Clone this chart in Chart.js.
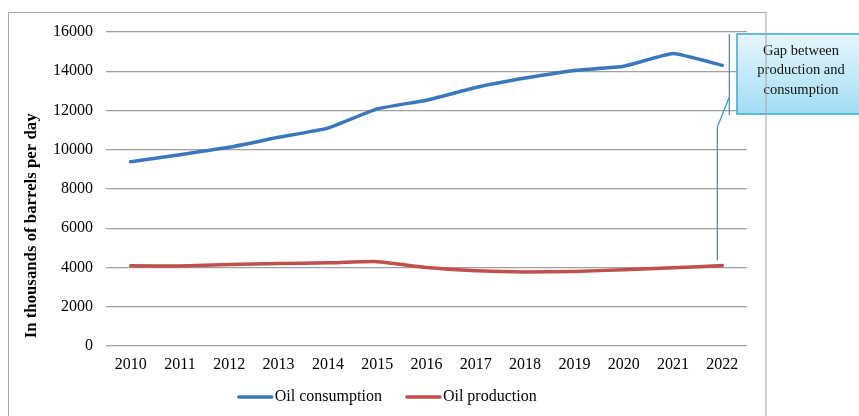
<!DOCTYPE html>
<html>
<head>
<meta charset="utf-8">
<script src="https://cdn.jsdelivr.net/npm/chart.js@4.4.1/dist/chart.umd.min.js"></script>
<style>
  html, body { margin: 0; padding: 0; background: #fff; }
  #wrap { width: 859px; height: 416px; }
</style>
</head>
<body>
<div id="wrap"><canvas id="oilChart"></canvas></div>
<script>
// --- data ---
const years = ['2010', '2011', '2012', '2013', '2014', '2015', '2016', '2017', '2018', '2019', '2020', '2021', '2022'];
const consumption = [9380, 9745, 10120, 10630, 11100, 12080, 12520, 13170, 13650, 14040, 14250, 14900, 14300];
const production = [4080, 4070, 4140, 4200, 4230, 4290, 3990, 3830, 3760, 3790, 3880, 3980, 4090];
const yTicks = [0, 2000, 4000, 6000, 8000, 10000, 12000, 14000, 16000];
const yTitle = 'In thousands of barrels per day';
const noteLines = ['Gap between', 'production and', 'consumption'];

const serif = '"Liberation Serif", "Times New Roman", serif';
const frame = { left: 8.5, top: 12.5, right: 766 };

// frame, axis title, legend and callout box
const decor = {
    id: 'decor',
    afterDraw(chart) {
        const ctx = chart.ctx;
        const x = chart.scales.x, y = chart.scales.y;
        const area = chart.chartArea;
        const xLast = x.getPixelForValue(years.length - 1);

        ctx.save();
        // y axis title (sits a bit below the middle, as in the source)
        ctx.save();
        ctx.translate(32, (area.top + area.bottom) / 2 + 37);
        ctx.rotate(-Math.PI / 2);
        ctx.font = 'bold 16.8px ' + serif;
        ctx.fillStyle = '#000';
        ctx.textAlign = 'center';
        ctx.textBaseline = 'middle';
        ctx.fillText(yTitle, 0, 0);
        ctx.restore();

        // callout bracket
        ctx.strokeStyle = '#2e9fce';
        ctx.lineWidth = 1.3;
        ctx.beginPath();
        ctx.moveTo(xLast + 7, y.getPixelForValue(15900));
        ctx.lineTo(xLast + 7, y.getPixelForValue(11770));
        ctx.moveTo(xLast + 7, y.getPixelForValue(12700));
        ctx.lineTo(xLast - 5, y.getPixelForValue(11150));
        ctx.lineTo(xLast - 5, y.getPixelForValue(4350));
        ctx.stroke();

        // note box
        const bx = 737, by = 34, bw = 140, bh = 80;
        const g = ctx.createLinearGradient(0, by, 0, by + bh);
        g.addColorStop(0, '#e6f6fd');
        g.addColorStop(1, '#a2ddf5');
        ctx.fillStyle = g;
        ctx.fillRect(bx, by, bw, bh);
        ctx.strokeStyle = '#38a8d4';
        ctx.lineWidth = 1.5;
        ctx.strokeRect(bx, by, bw, bh);
        ctx.fillStyle = '#111';
        ctx.font = '14.5px ' + serif;
        ctx.textAlign = 'center';
        ctx.textBaseline = 'middle';
        noteLines.forEach((t, i) => ctx.fillText(t, 801, 51 + i * 19.5));

        // legend
        ctx.font = '16px ' + serif;
        ctx.textAlign = 'left';
        ctx.fillStyle = '#000';
        const sw = 35, gap = 2, between = 24, ly = 397;
        const items = chart.data.datasets.map(ds => ({ text: ds.label, color: ds.borderColor, w: ctx.measureText(ds.label).width }));
        const total = items.reduce((s, it) => s + sw + gap + it.w, 0) + between * (items.length - 1);
        let lx = (frame.left + frame.right) / 2 - total / 2;
        items.forEach(it => {
            ctx.strokeStyle = it.color;
            ctx.lineWidth = 3.5;
            ctx.lineCap = 'round';
            ctx.beginPath();
            ctx.moveTo(lx + 1, ly);
            ctx.lineTo(lx + sw - 1, ly);
            ctx.stroke();
            ctx.fillText(it.text, lx + sw + gap, ly);
            lx += sw + gap + it.w + between;
        });

        // outer frame
        ctx.strokeStyle = '#a6a6a6';
        ctx.lineWidth = 1;
        ctx.strokeRect(frame.left, frame.top, frame.right - frame.left, 420);
        ctx.restore();
    }
};

new Chart(document.getElementById('oilChart'), {
    type: 'line',
    data: {
        labels: years,
        datasets: [
            {
                label: 'Oil consumption',
                data: consumption,
                borderColor: '#3a77bd',
                backgroundColor: '#3a77bd',
                borderWidth: 3.5,
                pointRadius: 0,
                tension: 0.12,
                borderCapStyle: 'round'
            },
            {
                label: 'Oil production',
                data: production,
                borderColor: '#c0504d',
                backgroundColor: '#c0504d',
                borderWidth: 3.5,
                pointRadius: 0,
                tension: 0.15,
                borderCapStyle: 'round'
            }
        ]
    },
    options: {
        responsive: true,
        maintainAspectRatio: false,
        animation: false,
        layout: { padding: { left: 8, right: 112, top: 32, bottom: 33 } },
        plugins: {
            tooltip: { enabled: false },
            legend: { display: false }
        },
        scales: {
            x: {
                offset: true,
                grid: { display: false, drawTicks: false },
                border: { display: false },
                ticks: { font: { family: serif, size: 16 }, color: '#000', padding: 9, maxRotation: 0 }
            },
            y: {
                min: 0,
                max: 16000,
                afterBuildTicks: axis => { axis.ticks = yTicks.map(v => ({ value: v })); },
                afterFit: axis => { axis.width = 98; },
                grid: { color: '#a0a0a0', lineWidth: 1.2, drawTicks: false },
                border: { display: false },
                ticks: { font: { family: serif, size: 16 }, color: '#000', padding: 13, callback: v => String(v) }
            }
        }
    },
    plugins: [decor]
});
</script>
</body>
</html>
